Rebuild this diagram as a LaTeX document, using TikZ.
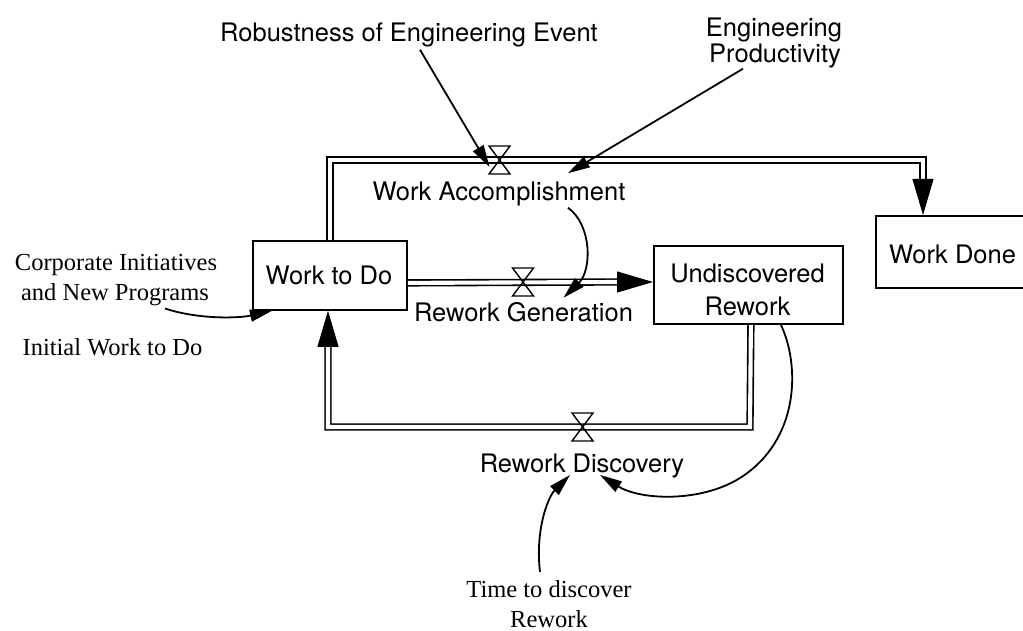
\documentclass[tikz,border=0pt]{standalone}
\usepackage{fontspec}
\newfontfamily\hv{TeX Gyre Heros}
\newfontfamily\tm{Liberation Serif}
\usetikzlibrary{arrows.meta,calc}
\begin{document}
\begin{tikzpicture}[x=1pt,y=-1pt,
  sanslabel/.style={font=\hv\fontsize{25.5}{27}\selectfont, inner sep=0pt, anchor=base},
  seriflabel/.style={font=\tm\fontsize{24.5}{30}\selectfont, inner sep=0pt, anchor=base},
  stock/.style={draw, line width=1.8pt, inner sep=0pt},
  pipe/.style={draw, line width=1.6pt, double, double distance=4.1pt, line join=miter},
  pipetip/.style={-{Triangle[length=36pt,width=21pt]}, line width=1pt},
  link/.style={draw, line width=1.8pt, -{Triangle[length=22pt,width=12pt]}},
  flowvalve/.pic={\draw[line width=1.4pt, line join=miter]
      (-10.5,-14) -- (10.5,-14) -- (-10.5,14) -- (10.5,14) -- cycle;}
]
\useasboundingbox (0,0) rectangle (1023,631);
\fill[white] (0,0) rectangle (1023,631);
\clip (0,0) rectangle (1023,631);

% stocks
\node[stock, minimum width=154pt, minimum height=69pt, anchor=north west] (todo) at (252,240) {};
\node[stock, minimum width=189pt, minimum height=78pt, anchor=north west] (undisc) at (653,245) {};
\node[stock, minimum width=170pt, minimum height=72pt, anchor=north west] (done) at (875,215) {};
\node[sanslabel] (todotxt) at (329,284) {Work to Do};
\node[sanslabel] (undisctxt1) at (747.5,283) {Undiscovered};
\node[sanslabel] (undisctxt2) at (747.5,316) {Rework};
\node[sanslabel] (donetxt) at (952.5,263) {Work Done};

% flow and auxiliary labels
\node[sanslabel] (robust) at (409,42) {Robustness of Engineering Event};
\node[sanslabel] (prod1) at (774,37) {Engineering};
\node[sanslabel] (prod2) at (775,63) {Productivity};
\node[sanslabel] (accomp) at (499,201) {Work Accomplishment};
\node[sanslabel] (gen) at (523.5,321) {Rework Generation};
\node[sanslabel] (disc) at (582,472) {Rework Discovery};
\node[seriflabel] (corp1) at (116,270) {Corporate Initiatives};
\node[seriflabel] (corp2) at (115,300) {and New Programs};
\node[seriflabel] (initial) at (112.5,355) {Initial Work to Do};
\node[seriflabel] (time1) at (549,597) {Time to discover};
\node[seriflabel] (time2) at (549,627) {Rework};

% pipe geometry
\coordinate (v1) at (499.5,160);
\coordinate (v2) at (523,282);
\coordinate (v3) at (582.5,427);
\coordinate (wdbend) at (923,160);
\coordinate (wdbase) at (923,179);
\coordinate (gstart) at ($(todo.east)+(0,7.5)$);
\coordinate (gbase) at (617,282);
\coordinate (dstart) at ($(undisc.south)+(2.5,0)$);
\coordinate (dright) at (750,427);
\coordinate (dleft) at (328,427);
\coordinate (dbase) at (328,345);

% work accomplishment: Work to Do -> Work Done
\draw[pipe] (todo.north) |- (wdbend) -- (wdbase);
\draw[pipetip] (wdbase) -- (wdbase |- done.north);
% rework generation: Work to Do -> Undiscovered Rework
\draw[pipe] (gstart) -- (gbase);
\draw[pipetip] (gbase) -- (gbase -| undisc.west);
% rework discovery: Undiscovered Rework -> Work to Do
\draw[pipe] (dstart) -- (dright) -- (dleft) -- (dbase);
\draw[pipetip] (dbase) -- (dbase |- todo.south);

% valves
\pic at (v1) {flowvalve};
\pic at (v2) {flowvalve};
\pic at (v3) {flowvalve};

% information links
\draw[link] ($(robust.south)+(11,2)$) -- ($(v1)+(-10,7)$);
\draw[link] ($(prod2.south)+(-32,0)$) -- ($(accomp.north)+(69,-9)$);
\draw[link] ($(accomp.south)+(69,1)$) .. controls (592,225) and (592,270) .. ($(gen.north)+(40,-4)$);
\draw[link] ($(corp2.south)+(50,3)$) .. controls (200,320) and (240,318) .. ($(todo.south west)+(20,0)$);
\draw[link] ($(undisc.south)+(32.5,0)$) .. controls (800,365) and (800,440) .. (740,478)
   .. controls (700,503) and (640,500) .. ($(disc.base)+(18,3)$);
\draw[link] ($(time1.north)+(-9,-8)$) .. controls (535,530) and (548,497) .. ($(disc.base)+(-12,3)$);
\end{tikzpicture}
\end{document}
